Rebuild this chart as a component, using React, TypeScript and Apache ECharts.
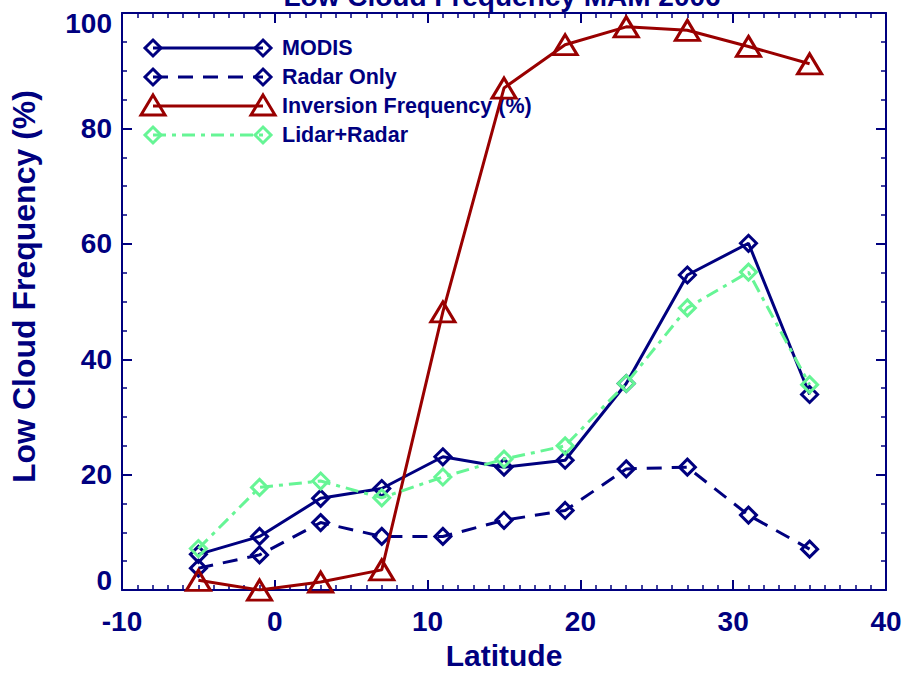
import React, { useEffect, useRef } from 'react';
import * as echarts from 'echarts';

const latitudes = [-5, -1, 3, 7, 11, 15, 19, 23, 27, 31, 35];
const modis = [6.2, 9.3, 15.9, 17.6, 23.1, 21.3, 22.5, 35.8, 54.6, 60.1, 33.9];
const radarOnly = [3.8, 6.1, 11.7, 9.3, 9.3, 12.1, 13.8, 21.0, 21.3, 13.0, 7.1];
const inversionFreq = [1.7, 0.0, 1.4, 3.5, 48.2, 87.0, 94.5, 97.6, 97.0, 94.2, 91.2];
const lidarRadar = [7.2, 17.8, 18.9, 16.0, 19.6, 22.7, 25.0, 35.8, 48.9, 55.1, 35.6];

const seriesNames = ['MODIS', 'Radar Only', 'Inversion Frequency (%)', 'Lidar+Radar'];
const titleText = 'Low Cloud Frequency MAM 2006';
const xName = 'Latitude';
const yName = 'Low Cloud Frequency (%)';

const NAVY = '#00007F';
const RED = '#990000';
const GREEN = '#66F595';
const FONT = '"Liberation Sans", Arial, Helvetica, sans-serif';

const styles = [
  { color: NAVY, dash: 'solid' as any, symbol: 'diamond' },
  { color: NAVY, dash: [15, 10] as any, symbol: 'diamond' },
  { color: RED, dash: 'solid' as any, symbol: 'triangle' },
  { color: GREEN, dash: [13, 6, 4, 6] as any, symbol: 'diamond' },
];
const values = [modis, radarOnly, inversionFreq, lidarRadar];

function diamondPts(cx: number, cy: number, r: number) {
  return [[cx, cy - r], [cx + r, cy], [cx, cy + r], [cx - r, cy]];
}
function trianglePts(cx: number, cy: number) {
  return [[cx, cy - 11], [cx + 12, cy + 9], [cx - 12, cy + 9]];
}

export default function App() {
  const ref = useRef<HTMLDivElement>(null);
  useEffect(() => {
    document.body.style.margin = '0';
    document.body.style.overflow = 'hidden';
    if (!ref.current) return;
    const chart = echarts.init(ref.current, undefined, { renderer: 'svg' });

    const legendRows = [48, 77, 106, 135];
    const legendEls: any[] = [];
    seriesNames.forEach((name, i) => {
      const y = legendRows[i];
      const s = styles[i];
      legendEls.push({
        type: 'line',
        shape: { x1: 153, y1: y, x2: 263, y2: y },
        style: { stroke: s.color, lineWidth: 3, lineDash: s.dash === 'solid' ? null : s.dash },
      });
      [153, 263].forEach((cx) => {
        legendEls.push({
          type: 'polygon',
          shape: { points: s.symbol === 'triangle' ? trianglePts(cx, y) : diamondPts(cx, y, 8) },
          style: { fill: 'rgba(255,255,255,0)', stroke: s.color, lineWidth: 3 },
        });
      });
      legendEls.push({
        type: 'text',
        x: 282,
        y: y,
        style: {
          text: name,
          fill: NAVY,
          font: `bold 21.5px ${FONT}`,
          align: 'left',
          verticalAlign: 'middle',
          textAlign: 'left',
          textVerticalAlign: 'middle',
        },
      });
    });
    legendEls.push({
      type: 'text',
      x: 502,
      y: -4,
      style: {
        text: titleText,
        fill: NAVY,
        font: `bold 28px ${FONT}`,
        align: 'center',
        verticalAlign: 'middle',
        textAlign: 'center',
        textVerticalAlign: 'middle',
      },
    });

    const axisCommon = {
      axisLine: { show: true, onZero: false, lineStyle: { color: NAVY, width: 2 } },
      axisTick: { show: true, inside: true, length: 10, lineStyle: { color: NAVY, width: 2 } },
      splitLine: { show: false },
    };
    const labelStyle = { color: NAVY, fontSize: 28, fontWeight: 'bold', fontFamily: FONT };

    chart.setOption({
      animation: false,
      backgroundColor: '#ffffff',
      grid: { left: 122, top: 13, width: 764, height: 584, containLabel: false },
      xAxis: [
        {
          type: 'value', min: -10, max: 40, interval: 10, position: 'bottom',
          ...axisCommon,
          minorTick: { show: true, splitNumber: 10, length: 5, lineStyle: { color: NAVY, width: 1.5 } },
          axisLabel: { ...labelStyle, margin: 17 },
          name: xName, nameLocation: 'middle', nameGap: 48,
          nameTextStyle: { ...labelStyle, fontSize: 30 },
        },
        {
          type: 'value', min: -10, max: 40, interval: 10, position: 'top',
          ...axisCommon,
          minorTick: { show: true, splitNumber: 10, length: 5, lineStyle: { color: NAVY, width: 1.5 } },
          axisLabel: { show: false },
        },
      ],
      yAxis: [
        {
          type: 'value', min: 0, max: 100, interval: 20, position: 'left',
          ...axisCommon,
          minorTick: { show: true, splitNumber: 4, length: 5, lineStyle: { color: NAVY, width: 1.5 } },
          axisLabel: {
            ...labelStyle,
            margin: 10,
            formatter: (v: number) => (v === 0 ? `{b|${v}}` : v === 100 ? `{t|${v}}` : `{n|${v}}`),
            rich: {
              n: { ...labelStyle },
              b: { ...labelStyle, padding: [0, 0, 20, 0] },
              t: { ...labelStyle, padding: [20, 0, 0, 0] },
            },
          },
          name: yName, nameLocation: 'middle', nameGap: 82,
          nameTextStyle: { ...labelStyle, fontSize: 32, padding: [0, 0, 0, 30] },
        },
        {
          type: 'value', min: 0, max: 100, interval: 20, position: 'right',
          ...axisCommon,
          minorTick: { show: true, splitNumber: 4, length: 5, lineStyle: { color: NAVY, width: 1.5 } },
          axisLabel: { show: false },
        },
      ],
      graphic: legendEls,
      series: seriesNames.map((name, i) => ({
        type: 'line',
        name,
        xAxisIndex: 0,
        yAxisIndex: 0,
        data: latitudes.map((x, j) => [x, values[i][j]]),
        symbol: styles[i].symbol,
        symbolSize: styles[i].symbol === 'triangle' ? [24, 20] : 16,
        showAllSymbol: true,
        clip: true,
        lineStyle: { color: styles[i].color, width: 3, type: styles[i].dash },
        itemStyle: { color: 'rgba(255,255,255,0)', borderColor: styles[i].color, borderWidth: 3 },
        emphasis: { disabled: true },
        z: 3 + i,
      })),
    });
    return () => chart.dispose();
  }, []);
  return (
    <div
      ref={ref}
      style={{ position: 'absolute', left: 0, top: 0, width: 906, height: 675 }}
    />
  );
}
